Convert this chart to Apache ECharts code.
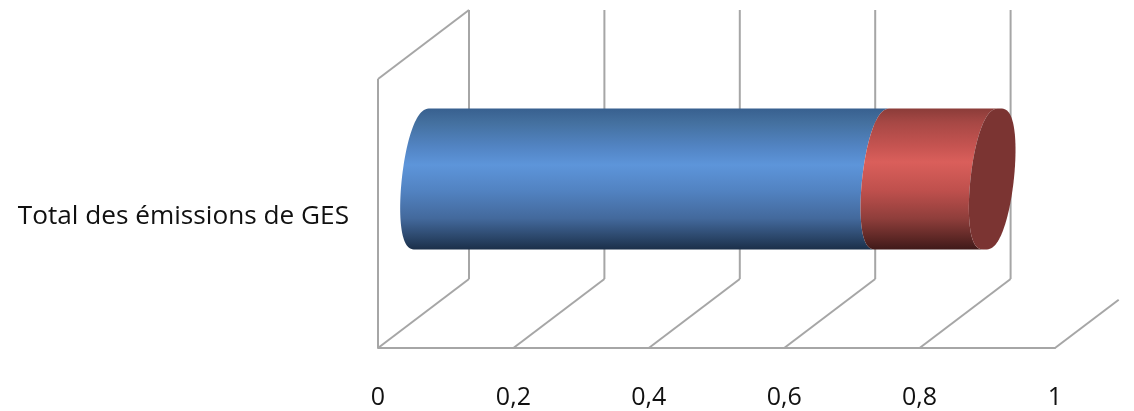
<!DOCTYPE html>
<html>
<head>
<meta charset="utf-8">
<style>html,body{margin:0;padding:0;background:#fff}#c{width:1134px;height:411px}</style>
<script src="https://cdn.jsdelivr.net/npm/echarts@6/dist/echarts.min.js"></script>
</head>
<body>
<div id="c"></div>
<script>
const categories = ['Total des émissions de GES'];
const blueValues = [0.68];
const redValues = [0.16];
const xTicks = [0, 0.2, 0.4, 0.6, 0.8, 1];

const DX = 91, DY = -69;           // projected depth of the 3D floor
const RX_TOP = 7.5, RY = 70.5, RX = 21.7; // tilted ellipse of the cylinder
const GRID = '#a6a6a6';
const FONT = '"Open Sans","Noto Sans",sans-serif';

function arc(cx, cy, from, to, n) {
  const pts = [];
  for (let i = 0; i <= n; i++) {
    const t = from + (to - from) * i / n;
    const s = Math.sin(t);
    const fat = Math.sign(s) * Math.pow(Math.abs(s), 0.75);
    pts.push([cx + RX_TOP * Math.cos(t) + RX * fat, cy - RY * Math.cos(t)]);
  }
  return pts;
}
function grad(stops) {
  return new echarts.graphic.LinearGradient(0, 0, 0, 1,
    stops.map(s => ({offset: s[0], color: s[1]})));
}
const blueFill = () => grad([[0,'#38608f'],[0.1,'#44709f'],[0.27,'#5284c3'],[0.4,'#5d95da'],[0.58,'#5283c2'],[0.78,'#43699c'],[0.92,'#2a4568'],[1,'#1b2f49']]);
const redFill = () => grad([[0,'#8b3c39'],[0.1,'#a74845'],[0.27,'#c65451'],[0.38,'#da5f5b'],[0.58,'#bf504d'],[0.78,'#8f3e3b'],[0.92,'#5d2725'],[1,'#401a19']]);

function cylinder(fillFn, withCap) {
  return function (params, api) {
    const p0 = api.coord([api.value(0), api.value(2)]);
    const p1 = api.coord([api.value(1), api.value(2)]);
    const y = p0[1] + DY / 2;
    const x0 = p0[0] + DX / 2, x1 = p1[0] + DX / 2;
    const left = arc(x0, y, 0, -Math.PI, 64);
    const rightBack = arc(x1, y, -Math.PI, 0, 64);
    const children = [{
      type: 'polygon',
      shape: {points: left.concat(rightBack)},
      style: {fill: fillFn()}
    }];
    if (withCap) {
      children.push({
        type: 'polygon',
        shape: {points: arc(x1, y, 0, Math.PI * 2, 128)},
        style: {fill: '#7b3432'}
      });
    }
    return {type: 'group', children};
  };
}

function gridWalls(params, api) {
  const v = api.value(0);
  const xFront = api.coord([v, 0])[0];
  const cs = params.coordSys;
  const bottom = cs.y + cs.height, top = cs.y;
  const line = (x1, y1, x2, y2) => ({
    type: 'line',
    shape: {x1, y1, x2, y2},
    style: {stroke: GRID, lineWidth: 2}
  });
  const children = [];
  const last = v === xTicks[xTicks.length - 1];
  if (last) {
    children.push(line(xFront, bottom, xFront + DX * 0.7, bottom + DY * 0.7));
  } else {
    children.push(line(xFront, bottom, xFront + DX, bottom + DY));
    children.push(line(xFront + DX, bottom + DY, xFront + DX, top + DY));
  }
  if (v === xTicks[0]) {
    children.push(line(xFront, bottom, xFront, top));
    children.push(line(xFront, top, xFront + DX, top + DY));
  }
  return {type: 'group', children};
}

const chart = echarts.init(document.getElementById('c'), null, {renderer: 'canvas'});
const blueData = blueValues.map((v, i) => [0, v, i]);
const redData = redValues.map((v, i) => [blueValues[i], blueValues[i] + v, i]);

chart.setOption({
  animation: false,
  backgroundColor: '#fff',
  grid: {left: 378, top: 79, width: 677, height: 269, containLabel: false},
  xAxis: {
    type: 'value', min: 0, max: 1, interval: 0.2,
    splitLine: {show: false},
    axisTick: {show: false},
    axisLine: {show: true, onZero: false, lineStyle: {color: GRID, width: 2}},
    axisLabel: {
      margin: 37, color: '#111', fontSize: 25, fontFamily: FONT,
      showMinLabel: true, showMaxLabel: true,
      formatter: v => String(v).replace('.', ',')
    }
  },
  yAxis: {
    type: 'category', data: categories,
    axisLine: {show: false}, axisTick: {show: false},
    axisLabel: {margin: 29, color: '#111', fontSize: 26.2, fontFamily: FONT, verticalAlign: 'top', lineHeight: 6}
  },
  series: [
    {type: 'custom', coordinateSystem: 'cartesian2d', clip: false, silent: true,
     data: xTicks.map(v => [v]), encode: {x: 0}, renderItem: gridWalls, z: 1},
    {type: 'custom', coordinateSystem: 'cartesian2d', clip: false, silent: true,
     data: blueData, encode: {x: [0, 1], y: 2}, renderItem: cylinder(blueFill, false), z: 2},
    {type: 'custom', coordinateSystem: 'cartesian2d', clip: false, silent: true,
     data: redData, encode: {x: [0, 1], y: 2}, renderItem: cylinder(redFill, true), z: 3}
  ]
});
</script>
</body>
</html>
